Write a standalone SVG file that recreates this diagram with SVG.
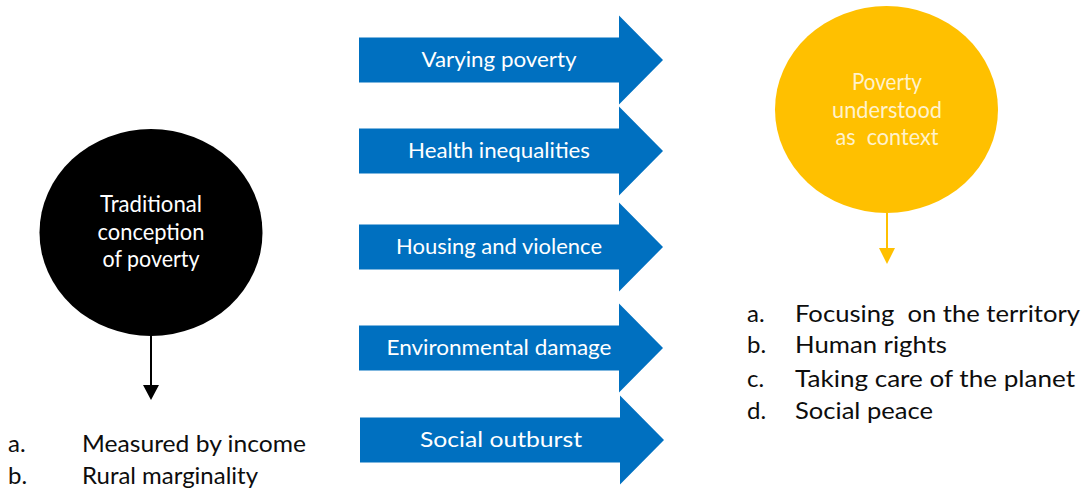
<svg xmlns="http://www.w3.org/2000/svg" width="1085" height="490" viewBox="0 0 1085 490">
<defs>
<style>
text{font-family:Lato,"Open Sans","Liberation Sans",sans-serif;}
.arrow{fill:#0070C0;}
.at{fill:#ffffff;font-size:21px;text-anchor:middle;}
.ct{fill:#ffffff;font-size:23px;text-anchor:middle;}
.yt{fill:#FFF2CC;font-size:23px;text-anchor:middle;}
.lt{fill:#0d0d0d;font-size:24px;}
</style>
<path id="blockArrow" d="M0,-22.5 H260 V-44.5 L304,0 L260,44.5 V22.5 H0 Z"/>
</defs>
<rect width="1085" height="490" fill="#ffffff"/>

<g id="traditional">
<ellipse cx="151" cy="232.5" rx="111.5" ry="103.5" fill="#000000"/>
<text class="ct" x="151" y="212" textLength="102" lengthAdjust="spacingAndGlyphs">Traditional</text>
<text class="ct" x="151" y="240" textLength="107" lengthAdjust="spacingAndGlyphs">conception</text>
<text class="ct" x="151" y="267" textLength="97" lengthAdjust="spacingAndGlyphs">of poverty</text>
</g>

<g id="context">
<ellipse cx="886.5" cy="109.5" rx="111.5" ry="103.5" fill="#FFC000"/>
<text class="yt" x="887" y="90" textLength="70" lengthAdjust="spacingAndGlyphs">Poverty</text>
<text class="yt" x="887" y="118" textLength="110" lengthAdjust="spacingAndGlyphs">understood</text>
<text class="yt" x="887" y="145" textLength="103" lengthAdjust="spacingAndGlyphs" xml:space="preserve">as  context</text>
</g>

<g id="arrow-varying">
<use href="#blockArrow" class="arrow" transform="translate(359,60)"/>
<text class="at" x="499" y="67" textLength="155" lengthAdjust="spacingAndGlyphs">Varying poverty</text>
</g>
<g id="arrow-health">
<use href="#blockArrow" class="arrow" transform="translate(359,151)"/>
<text class="at" x="499" y="158" textLength="182" lengthAdjust="spacingAndGlyphs">Health inequalities</text>
</g>
<g id="arrow-housing">
<use href="#blockArrow" class="arrow" transform="translate(359,247)"/>
<text class="at" x="499" y="254" textLength="206" lengthAdjust="spacingAndGlyphs">Housing and violence</text>
</g>
<g id="arrow-environment">
<use href="#blockArrow" class="arrow" transform="translate(359,348)"/>
<text class="at" x="499" y="355" textLength="225" lengthAdjust="spacingAndGlyphs">Environmental damage</text>
</g>
<g id="arrow-social">
<use href="#blockArrow" class="arrow" transform="translate(360,440)"/>
<text class="at" x="501" y="447" textLength="162" lengthAdjust="spacingAndGlyphs">Social outburst</text>
</g>

<g id="connectors">
<line x1="151" y1="336" x2="151" y2="386" stroke="#000000" stroke-width="2"/>
<polygon points="143,385 159,385 151,400" fill="#000000"/>
<line x1="887" y1="213" x2="887" y2="249" stroke="#FFC000" stroke-width="2"/>
<polygon points="879,248 895,248 887,264" fill="#FFC000"/>
</g>

<g id="traditional-list">
<text class="lt" x="8" y="452">a.</text>
<text class="lt" x="82" y="452" textLength="224" lengthAdjust="spacingAndGlyphs">Measured by income</text>
<text class="lt" x="8" y="484">b.</text>
<text class="lt" x="82" y="484" textLength="176" lengthAdjust="spacingAndGlyphs">Rural marginality</text>
</g>

<g id="context-list">
<text class="lt" x="747" y="322">a.</text>
<text class="lt" x="795" y="322" textLength="285" lengthAdjust="spacingAndGlyphs" xml:space="preserve">Focusing  on the territory</text>
<text class="lt" x="747" y="353">b.</text>
<text class="lt" x="795" y="353" textLength="152" lengthAdjust="spacingAndGlyphs">Human rights</text>
<text class="lt" x="747" y="387">c.</text>
<text class="lt" x="795" y="387" textLength="280" lengthAdjust="spacingAndGlyphs">Taking care of the planet</text>
<text class="lt" x="747" y="419">d.</text>
<text class="lt" x="795" y="419" textLength="138" lengthAdjust="spacingAndGlyphs">Social peace</text>
</g>
</svg>
